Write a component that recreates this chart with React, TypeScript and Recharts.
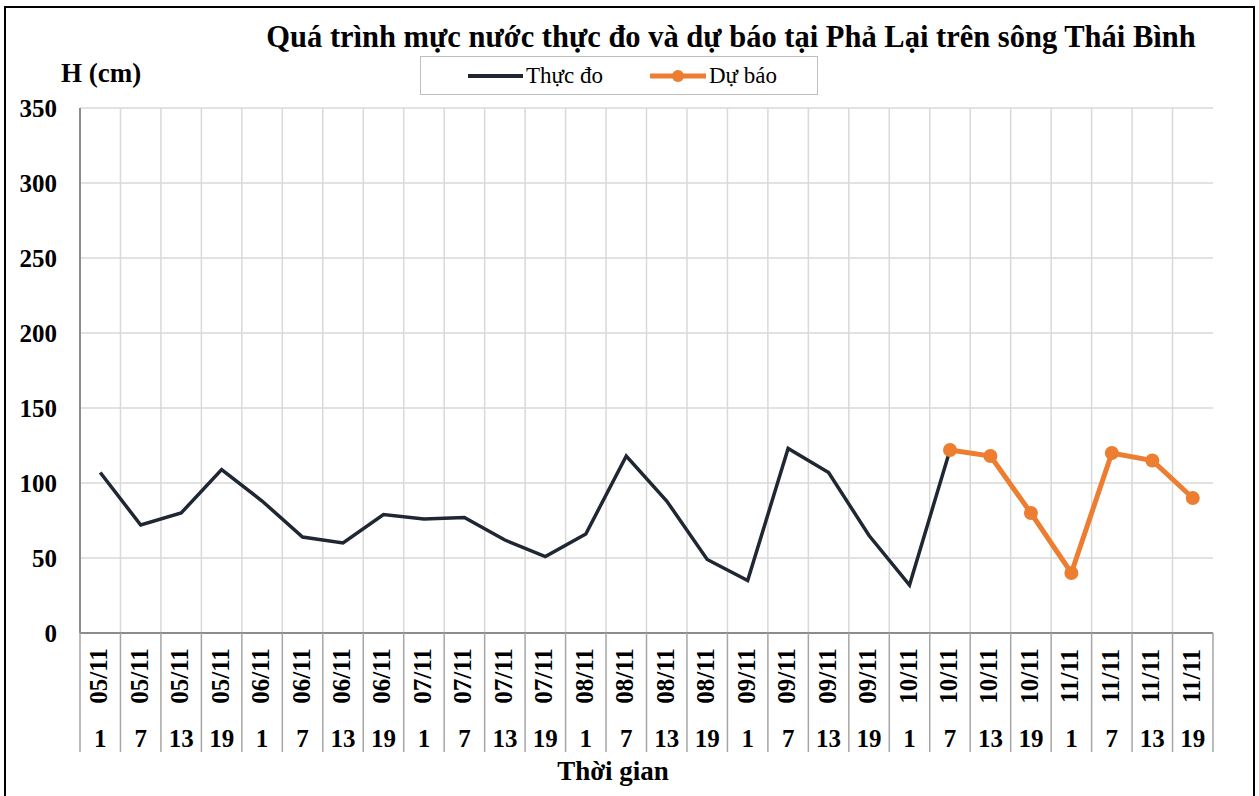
import { CartesianGrid, Line, LineChart, XAxis, YAxis } from "recharts";

const dates = [
  "05/11", "05/11", "05/11", "05/11",
  "06/11", "06/11", "06/11", "06/11",
  "07/11", "07/11", "07/11", "07/11",
  "08/11", "08/11", "08/11", "08/11",
  "09/11", "09/11", "09/11", "09/11",
  "10/11", "10/11", "10/11", "10/11",
  "11/11", "11/11", "11/11", "11/11",
];
const hours = [1, 7, 13, 19, 1, 7, 13, 19, 1, 7, 13, 19, 1, 7, 13, 19, 1, 7, 13, 19, 1, 7, 13, 19, 1, 7, 13, 19];
const observed = [
  107, 72, 80, 109, 88, 64, 60, 79, 76, 77, 62, 51, 66, 118, 88, 49, 35, 123, 107, 65, 32, 122,
  null, null, null, null, null, null,
];
const forecast = [
  null, null, null, null, null, null, null, null, null, null, null, null, null, null,
  null, null, null, null, null, null, null, 122, 118, 80, 40, 120, 115, 90,
];
const yTicks = [0, 50, 100, 150, 200, 250, 300, 350];

const data = dates.map((d, i) => ({
  key: `${d} ${hours[i]}`,
  date: d,
  hour: hours[i],
  observed: observed[i],
  forecast: forecast[i],
}));

const FONT = "'Liberation Serif', 'Times New Roman', Times, serif";
const W = 1259;
const H = 796;
const M = { top: 108, right: 46, bottom: 0, left: 20 };
const Y_W = 60;
const X_H = 163;
const PLOT_W = W - M.left - Y_W - M.right;
const BAND = PLOT_W / data.length;
const DARK = "#1f2733";
const ORANGE = "#ed7d31";

function TimeTick(props: any) {
  const { x, y, index } = props;
  const row = data[index];
  if (!row) return null;
  const half = BAND / 2;
  return (
    <g>
      <line x1={x - half} y1={y} x2={x - half} y2={y + 119} stroke="#a6a6a6" strokeWidth={1.5} />
      {index === data.length - 1 && (
        <line x1={x + half} y1={y} x2={x + half} y2={y + 119} stroke="#a6a6a6" strokeWidth={1.5} />
      )}
      <text
        x={x + 7}
        y={y + 43}
        transform={`rotate(-90, ${x + 7}, ${y + 43})`}
        textAnchor="middle"
        fontFamily={FONT}
        fontWeight="bold"
        fontSize={25}
        fill="#000"
      >
        {row.date}
      </text>
      <text x={x} y={y + 114} textAnchor="middle" fontFamily={FONT} fontWeight="bold" fontSize={25} fill="#000">
        {row.hour}
      </text>
    </g>
  );
}

export default function App() {
  return (
    <div style={{ position: "absolute", left: 0, top: 0, width: W, height: H, overflow: "hidden", background: "#fff" }}>
      <div
        style={{
          position: "absolute",
          left: 4,
          top: 6,
          width: 1247,
          height: 820,
          border: "2px solid #000",
        }}
      />
      <div
        style={{
          position: "absolute",
          left: 200,
          width: 1062,
          top: 20,
          textAlign: "center",
          fontFamily: FONT,
          fontWeight: "bold",
          fontSize: 30.5,
          whiteSpace: "nowrap",
        }}
      >
        Quá trình mực nước thực đo và dự báo tại Phả Lại trên sông Thái Bình
      </div>
      <div
        style={{
          position: "absolute",
          left: 61,
          top: 58,
          fontFamily: FONT,
          fontWeight: "bold",
          fontSize: 27,
        }}
      >
        H (cm)
      </div>
      <div
        style={{
          position: "absolute",
          left: 420,
          top: 56,
          width: 398,
          height: 39,
          border: "1px solid #bfbfbf",
          boxSizing: "border-box",
        }}
      >
        <svg width={398} height={39} style={{ position: "absolute", left: -1, top: -1 }}>
          <line x1={48} y1={20} x2={103} y2={20} stroke={DARK} strokeWidth={4} />
          <text x={106} y={27} fontFamily={FONT} fontSize={23} fill="#000">Thực đo</text>
          <line x1={230} y1={20} x2={286} y2={20} stroke={ORANGE} strokeWidth={5} />
          <circle cx={258} cy={20} r={6} fill={ORANGE} />
          <text x={289} y={27} fontFamily={FONT} fontSize={23} fill="#000">Dự báo</text>
        </svg>
      </div>
      <div
        style={{
          position: "absolute",
          left: 413,
          width: 400,
          top: 756,
          textAlign: "center",
          fontFamily: FONT,
          fontWeight: "bold",
          fontSize: 27,
        }}
      >
        Thời gian
      </div>
      <div style={{ position: "absolute", left: 0, top: 0 }}>
        <LineChart width={W} height={H} data={data} margin={M}>
          <CartesianGrid
            stroke="#d9d9d9"
            strokeWidth={1.5}
            verticalCoordinatesGenerator={({ offset }: any) =>
              data.slice(1).map((_, i) => offset.left + (offset.width * (i + 1)) / data.length)
            }
          />
          <XAxis
            dataKey="key"
            scale="band"
            height={X_H}
            interval={0}
            tickLine={false}
            tickSize={0}
            tickMargin={0}
            axisLine={{ stroke: "#8c8c8c", strokeWidth: 2 }}
            tick={<TimeTick />}
          />
          <XAxis
            xAxisId="top"
            dataKey="key"
            scale="band"
            orientation="top"
            height={0}
            tick={false}
            tickLine={false}
            axisLine={{ stroke: "#8c8c8c", strokeWidth: 2 }}
          />
          <YAxis
            width={Y_W}
            domain={[0, 350]}
            ticks={yTicks}
            interval={0}
            tickLine={false}
            tickSize={0}
            tickMargin={23}
            axisLine={{ stroke: "#8c8c8c", strokeWidth: 2 }}
            tick={{ fontFamily: FONT, fontWeight: "bold", fontSize: 25, fill: "#000" }}
          />
          <YAxis
            yAxisId="right"
            orientation="right"
            width={0}
            domain={[0, 350]}
            tick={false}
            tickLine={false}
            axisLine={{ stroke: "#8c8c8c", strokeWidth: 2 }}
          />
          <Line
            type="linear"
            dataKey="observed"
            stroke={DARK}
            strokeWidth={3.5}
            dot={false}
            isAnimationActive={false}
          />
          <Line
            type="linear"
            dataKey="forecast"
            stroke={ORANGE}
            strokeWidth={5}
            dot={{ r: 7, fill: ORANGE, stroke: "none" }}
            isAnimationActive={false}
          />
        </LineChart>
      </div>
    </div>
  );
}
